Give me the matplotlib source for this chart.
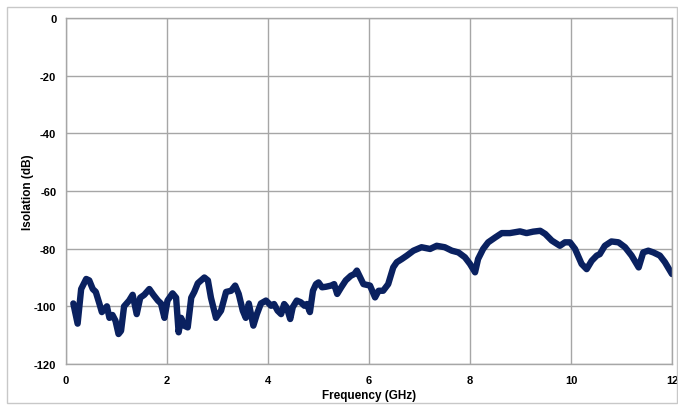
import numpy as np
import matplotlib.pyplot as plt
from matplotlib.patches import Rectangle

# ===== data =====
freq_ghz = [0.145, 0.23, 0.30, 0.40, 0.46, 0.53, 0.59, 0.66, 0.71, 0.81, 0.86, 0.92,
            0.98, 1.04, 1.09, 1.15, 1.25, 1.32, 1.40, 1.47, 1.55, 1.65, 1.73, 1.82,
            1.88, 1.95, 2.01, 2.11, 2.18, 2.23, 2.28, 2.34, 2.41, 2.48, 2.54, 2.61,
            2.74, 2.81, 2.87, 2.97, 3.07, 3.17, 3.27, 3.35, 3.42, 3.50, 3.56, 3.62,
            3.71, 3.78, 3.86, 3.96, 4.06, 4.12, 4.19, 4.26, 4.32, 4.37, 4.44, 4.49,
            4.57, 4.65, 4.72, 4.77, 4.83, 4.89, 4.95, 5.00, 5.07, 5.15, 5.25, 5.31,
            5.37, 5.45, 5.54, 5.64, 5.71, 5.76, 5.81, 5.89, 6.02, 6.12, 6.19, 6.28,
            6.38, 6.48, 6.55, 6.65, 6.75, 6.88, 7.04, 7.21, 7.34, 7.50, 7.64, 7.77,
            7.90, 8.00, 8.10, 8.16, 8.26, 8.36, 8.50, 8.63, 8.79, 8.99, 9.12, 9.25,
            9.39, 9.49, 9.62, 9.78, 9.88, 9.98, 10.08, 10.21, 10.31, 10.41, 10.51,
            10.57, 10.67, 10.80, 10.94, 11.07, 11.20, 11.34, 11.43, 11.53, 11.63,
            11.76, 11.86, 12.0]
isolation_db = [-99, -106, -94, -90.5, -91, -94, -95, -99, -102, -100, -104, -103,
                -105, -109.6, -108.5, -100, -98, -96, -102.7, -97, -96, -94, -96, -98,
                -99, -104, -98, -95.5, -97, -109, -104, -106.7, -107.3, -97, -95, -92,
                -90, -91, -97, -104, -101.5, -95, -94.6, -92.8, -95.7, -101.5, -104, -99,
                -106.7, -102.7, -99, -98, -99.8, -99.2, -101.5, -102.7, -99.2, -100.3,
                -104.4, -100.3, -98, -98.6, -99.8, -99.2, -102, -94.6, -92.3, -91.7,
                -93.4, -93.2, -92.8, -92.3, -95.7, -93.4, -91, -89.4, -88.8, -87.6,
                -89.4, -92.3, -92.8, -96.9, -94.6, -94.6, -92.3, -86.5, -84.7, -83.6,
                -82.4, -80.7, -79.5, -80.1, -79, -79.5, -80.7, -81.3, -83, -85.3, -88.2,
                -83.6, -80.1, -77.8, -76.1, -74.6, -74.6, -74, -74.6, -74.1, -73.8,
                -74.9, -77.2, -79, -77.8, -77.8, -80.1, -85.3, -87.1, -84.2, -82.4,
                -81.9, -79, -77.5, -77.8, -79.5, -82.4, -86.5, -81.3, -80.7, -81.3,
                -82.4, -84.7, -88.8]

x_ticks = [0, 2, 4, 6, 8, 10, 12]
y_ticks = [-120, -100, -80, -60, -40, -20, 0]

plt.rcParams['font.family'] = ['Liberation Sans', 'DejaVu Sans']
plt.rcParams['axes.unicode_minus'] = False  # plain hyphens like the original

fig = plt.figure(figsize=(6.78, 4.06), dpi=100)
ax = fig.add_axes([66 / 678, 1 - 365 / 406, 606 / 678, 346 / 406])

# light border round the whole chart, Excel style
fig.patches.append(Rectangle((7 / 678, 2 / 406), 670 / 678, 396 / 406,
                             transform=fig.transFigure, fill=False,
                             edgecolor='#c8c8c8', linewidth=1))

ax.plot(freq_ghz, isolation_db, color='#0a2160', linewidth=4.6,
        solid_joinstyle='round', solid_capstyle='round')

ax.set_xlim(0, 12)
ax.set_ylim(-120, 0)
ax.set_xticks(x_ticks)
ax.set_yticks(y_ticks)
ax.grid(True, color='#a6a6a6', linewidth=1)
ax.set_axisbelow(True)
for s in ax.spines.values():
    s.set_color('#a6a6a6')
    s.set_linewidth(1)
ax.tick_params(length=0, labelsize=8)
ax.tick_params(axis='x', pad=8)
ax.tick_params(axis='y', pad=7)
for lab in ax.get_xticklabels() + ax.get_yticklabels():
    lab.set_fontweight('bold')

ax.set_xlabel('Frequency (GHz)', fontsize=8.5, fontweight='bold')
ax.set_ylabel('Isolation (dB)', fontsize=8.5, fontweight='bold')
ax.xaxis.set_label_coords(0.5, -0.071)
ax.yaxis.set_label_coords(-0.052, 0.5)

fig.savefig('out.png', dpi=100)
